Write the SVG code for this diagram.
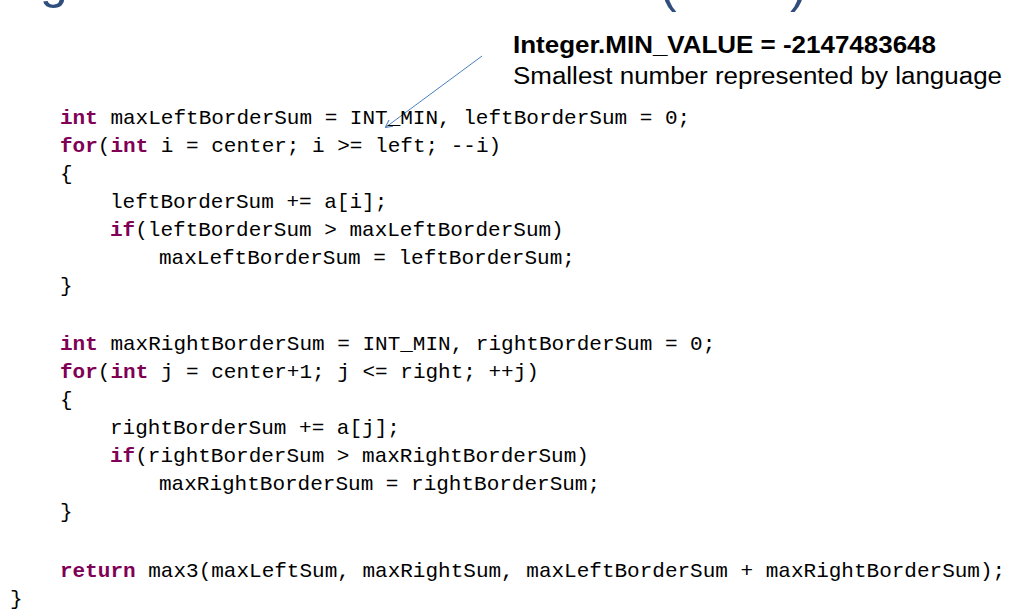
<svg xmlns="http://www.w3.org/2000/svg" width="1024" height="615" viewBox="0 0 1024 615">
<style>
.c{font-family:"Liberation Mono","DejaVu Sans Mono",monospace;font-size:21px;fill:#000;white-space:pre}
.k{fill:#7f0055;font-weight:bold}
.t{font-family:"Liberation Sans",Arial,sans-serif;font-size:50px;fill:#2f4e7e}
.a{font-family:"Liberation Sans",Arial,sans-serif;font-size:23px;fill:#000}
</style>
<defs><marker id="ah" markerWidth="8" markerHeight="8" refX="7" refY="4" orient="auto" markerUnits="userSpaceOnUse"><path d="M0,0 L8,4 L0,8" fill="none" stroke="#4a7fc0" stroke-width="1"/></marker></defs>
<rect width="1024" height="615" fill="#fff"/>
<text class="t" x="40" y="-2">g</text>
<text class="t" x="660" y="2">(</text>
<text class="t" x="790" y="2">)</text>
<g id="note">
<text class="a" x="513" y="53" font-weight="bold" textLength="423" lengthAdjust="spacingAndGlyphs">Integer.MIN_VALUE = -2147483648</text>
<text class="a" x="513" y="84" textLength="489" lengthAdjust="spacingAndGlyphs">Smallest number represented by language</text>
</g>
<g id="connectors"><line x1="482" y1="56" x2="386" y2="127" stroke="#4a7fc0" stroke-width="1" marker-end="url(#ah)"/></g>
<g id="code">
<text class="c" x="60" y="124"><tspan class="k">int</tspan> maxLeftBorderSum = INT_MIN, leftBorderSum = 0;</text>
<text class="c" x="60" y="152"><tspan class="k">for</tspan>(<tspan class="k">int</tspan> i = center; i &gt;= left; --i)</text>
<text class="c" x="60" y="180">{</text>
<text class="c" x="110" y="208">leftBorderSum += a[i];</text>
<text class="c" x="110" y="236"><tspan class="k">if</tspan>(leftBorderSum &gt; maxLeftBorderSum)</text>
<text class="c" x="159" y="264">maxLeftBorderSum = leftBorderSum;</text>
<text class="c" x="60" y="292">}</text>
<text class="c" x="60" y="350"><tspan class="k">int</tspan> maxRightBorderSum = INT_MIN, rightBorderSum = 0;</text>
<text class="c" x="60" y="378"><tspan class="k">for</tspan>(<tspan class="k">int</tspan> j = center+1; j &lt;= right; ++j)</text>
<text class="c" x="60" y="406">{</text>
<text class="c" x="110" y="434">rightBorderSum += a[j];</text>
<text class="c" x="110" y="462"><tspan class="k">if</tspan>(rightBorderSum &gt; maxRightBorderSum)</text>
<text class="c" x="159" y="490">maxRightBorderSum = rightBorderSum;</text>
<text class="c" x="60" y="518">}</text>
<text class="c" x="60" y="577"><tspan class="k">return</tspan> max3(maxLeftSum, maxRightSum, maxLeftBorderSum + maxRightBorderSum);</text>
<text class="c" x="10" y="605">}</text>
</g>
</svg>
